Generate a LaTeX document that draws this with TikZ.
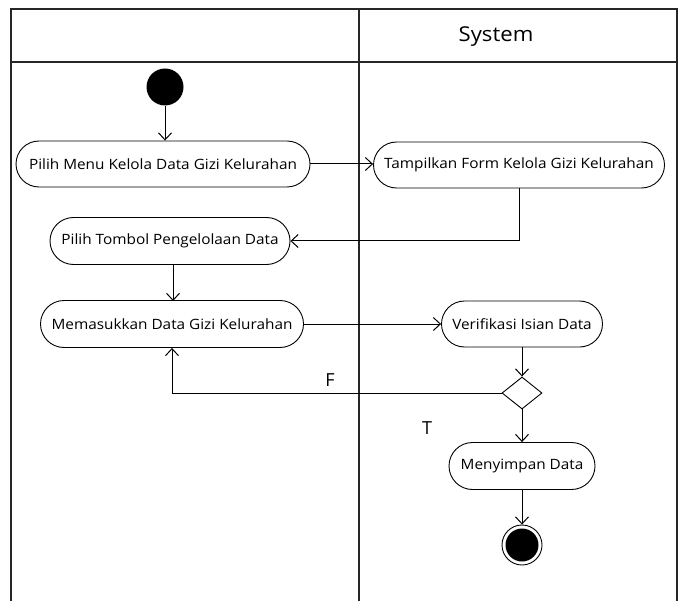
\documentclass[tikz,border=0pt]{standalone}
\usepackage{fontspec}
\setmainfont{Open Sans}
\newfontfamily\wideopen[FakeStretch=1.08]{Open Sans}
\usetikzlibrary{arrows.meta,shapes.geometric,shapes.misc}
\begin{document}
\begin{tikzpicture}[x=1pt,y=-1pt,
  act/.style={draw,rounded rectangle,line width=0.9pt,font=\wideopen\fontsize{14.2}{16}\selectfont,inner sep=0pt},
  flow/.style={line width=1pt,-{Straight Barb[length=7pt,width=13pt,line width=1pt]}},
  frame/.style={line width=1.6pt,draw=black!85},
  lbl/.style={font=\fontsize{18}{20}\selectfont}]
\useasboundingbox (0,0) rectangle (684,601);
% swimlane frame
\draw[frame] (11,601) -- (11,9) -- (677,9) -- (677,601);
\draw[frame] (359,9) -- (359,601);
\draw[frame] (11,62) -- (677,62);
\node[font=\wideopen\fontsize{20.5}{22}\selectfont] (sys) at (496,37) {System};
% nodes
\node[circle,fill=black,minimum size=37pt,inner sep=0pt] (start) at (165,87) {};
\node[act,minimum width=294pt,minimum height=46pt] (n1) at (163,164) {Pilih Menu Kelola Data Gizi Kelurahan};
\node[act,minimum width=291pt,minimum height=46pt] (n2) at (519,165) {Tampilkan Form Kelola Gizi Kelurahan};
\node[act,minimum width=240pt,minimum height=47pt] (n3) at (170,241) {Pilih Tombol Pengelolaan Data};
\node[act,minimum width=263pt,minimum height=47pt] (n4) at (172,324) {Memasukkan Data Gizi Kelurahan};
\node[act,minimum width=161pt,minimum height=46pt] (n5) at (522,324) {Verifikasi Isian Data};
\node[draw,diamond,line width=0.9pt,minimum width=40pt,minimum height=32pt,inner sep=0pt,aspect=1.25] (d) at (522,393) {};
\node[act,minimum width=146pt,minimum height=47pt] (n6) at (522,466) {Menyimpan Data};
\node[circle,draw,line width=0.9pt,minimum size=40pt,inner sep=0pt] (endo) at (522,545) {};
\node[circle,fill=black,minimum size=33pt,inner sep=0pt] (endi) at (522,545) {};
% labels
\node[lbl] (F) at (330,380) {F};
\node[lbl] (T) at (427,428) {T};
% connectors
\draw[flow] (start) -- (start |- n1.north);
\draw[flow] (n1.east) -- (n1.east -| n2.west);
\draw[flow] (n2.south) |- (n3.east);
\draw[flow] (173,264.5) -- (173,301);
\draw[flow] (n4.east) -- (n5.west);
\draw[flow] (n5.south) -- (d.north);
\draw[flow] (d.west) -| (n4.south);
\draw[flow] (d.south) -- (n6.north);
\draw[flow] (n6.south) -- (endo.north);
\end{tikzpicture}
\end{document}
